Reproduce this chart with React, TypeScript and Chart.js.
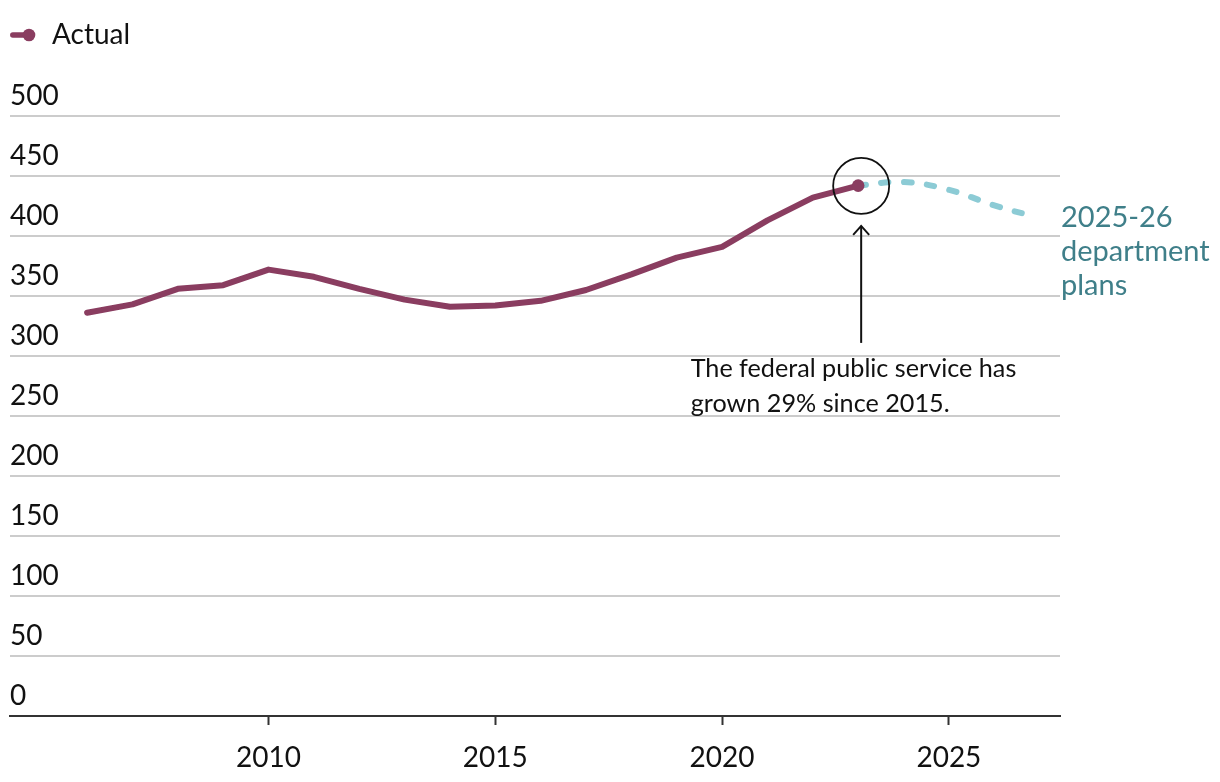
import React, { useEffect, useRef } from 'react';
import { Chart, registerables } from 'chart.js';

Chart.register(...registerables);

// ---- Data ----
const actualYears = [2006, 2007, 2008, 2009, 2010, 2011, 2012, 2013, 2014, 2015, 2016, 2017, 2018, 2019, 2020, 2021, 2022, 2023];
const actualValues = [336, 343, 356, 359, 372, 366, 356, 347, 341, 342, 346, 355, 368, 382, 391, 413, 432, 442];
const planYears = [2023, 2024, 2025, 2026, 2026.75];
const planValues = [442, 445, 438.5, 425.5, 417.5];
const xTickYears = [2010, 2015, 2020, 2025];
const legendLabel = 'Actual';
const calloutLines = ['The federal public service has', 'grown 29% since 2015.'];
const planLabelLines = ['2025-26', 'department', 'plans'];

// ---- Styles ----
const ACTUAL_COLOR = '#8a3d60';
const PLAN_COLOR = '#8ccbd5';
const PLAN_TEXT_COLOR = '#3f7f89';
const TEXT_COLOR = '#111111';
const FONT = 'Lato';

function makeMarker(): HTMLCanvasElement {
  const c = document.createElement('canvas');
  c.width = 28;
  c.height = 16;
  const g = c.getContext('2d')!;
  g.strokeStyle = ACTUAL_COLOR;
  g.lineWidth = 5.5;
  g.lineCap = 'round';
  g.beginPath();
  g.moveTo(2.8, 8);
  g.lineTo(19, 8);
  g.stroke();
  g.fillStyle = ACTUAL_COLOR;
  g.beginPath();
  g.arc(19, 8, 6.3, 0, Math.PI * 2);
  g.fill();
  return c;
}

const legendSpacer = {
  id: 'legendSpacer',
  beforeLayout(chart: any) {
    const legend = chart.legend;
    if (legend && !legend._spacerPatched) {
      const orig = legend.fit;
      legend.fit = function () {
        orig.call(this);
        this.height = 95;
      };
      legend._spacerPatched = true;
    }
  },
};

const annotations = {
  id: 'annotations',
  afterDatasetsDraw(chart: any) {
    const { ctx, chartArea } = chart;
    const x = chart.scales.x;
    const y = chart.scales.y;
    const last = actualValues.length - 1;
    const px = x.getPixelForValue(actualYears[last]);
    const py = y.getPixelForValue(actualValues[last]);
    const cx = px + 3;
    const cy = py + 0.3;
    ctx.save();
    ctx.strokeStyle = TEXT_COLOR;
    ctx.lineWidth = 1.8;
    ctx.beginPath();
    ctx.arc(cx, cy, 28, 0, Math.PI * 2);
    ctx.stroke();

    const tipY = cy + 40;
    const tailY = cy + 157;
    ctx.lineWidth = 2;
    ctx.beginPath();
    ctx.moveTo(cx, tailY);
    ctx.lineTo(cx, tipY);
    ctx.stroke();
    ctx.beginPath();
    ctx.moveTo(cx - 8, tipY + 9);
    ctx.lineTo(cx, tipY);
    ctx.lineTo(cx + 8, tipY + 9);
    ctx.stroke();

    ctx.fillStyle = TEXT_COLOR;
    ctx.font = `25.2px ${FONT}`;
    ctx.textAlign = 'left';
    ctx.textBaseline = 'alphabetic';
    calloutLines.forEach((t, i) => ctx.fillText(t, cx - 170.5, cy + 191 + i * 35));

    ctx.fillStyle = PLAN_TEXT_COLOR;
    ctx.font = `29px ${FONT}`;
    planLabelLines.forEach((t, i) => ctx.fillText(t, chartArea.right + 1, cy + 41.5 + i * 34));
    ctx.restore();
  },
};

export default function App() {
  const canvasRef = useRef<HTMLCanvasElement | null>(null);

  useEffect(() => {
    let chart: Chart | null = null;
    let cancelled = false;
    const create = () => {
      if (cancelled || !canvasRef.current) return;
      const marker = makeMarker();
      chart = new Chart(canvasRef.current, {
        type: 'line',
        data: {
          datasets: [
            {
              label: legendLabel,
              data: actualYears.map((yr, i) => ({ x: yr, y: actualValues[i] })),
              borderColor: ACTUAL_COLOR,
              backgroundColor: ACTUAL_COLOR,
              borderWidth: 6,
              tension: 0,
              borderCapStyle: 'round',
              borderJoinStyle: 'round',
              pointRadius: (c: any) => (c.dataIndex === actualValues.length - 1 ? 6.3 : 0),
              pointBorderWidth: 0,
              pointHoverRadius: 0,
              pointBackgroundColor: ACTUAL_COLOR,
            } as any,
            {
              label: 'Plans',
              data: planYears.map((yr, i) => ({ x: yr, y: planValues[i] })),
              borderColor: PLAN_COLOR,
              backgroundColor: PLAN_COLOR,
              borderWidth: 6,
              borderDash: [7.5, 15.5],
              borderCapStyle: 'round',
              tension: 0.4,
              pointRadius: 0,
              pointHoverRadius: 0,
            } as any,
          ],
        },
        options: {
          responsive: false,
          animation: false,
          events: [],
          layout: { padding: { left: 10, right: 160, top: 21, bottom: 0 } },
          scales: {
            x: {
              type: 'linear',
              min: 2004.3,
              max: 2027.45,
              afterBuildTicks: (s: any) => {
                s.ticks = xTickYears.map((v) => ({ value: v }));
              },
              afterFit: (s: any) => {
                s.height = 66;
              },
              grid: {
                display: true,
                drawOnChartArea: false,
                drawTicks: true,
                tickLength: 9,
                tickWidth: 2,
                tickColor: '#333333',
              },
              border: { display: true, color: '#333333', width: 2 },
              ticks: {
                padding: 16,
                autoSkip: false,
                maxRotation: 0,
                font: { family: FONT, size: 28 },
                color: TEXT_COLOR,
                callback: (v: any) => String(v),
              },
            },
            y: {
              type: 'linear',
              min: 0,
              max: 500,
              afterFit: (s: any) => {
                s.width = 0;
              },
              grid: {
                drawTicks: false,
                lineWidth: 2,
                color: (c: any) => (c.tick && c.tick.value === 0 ? 'rgba(0,0,0,0)' : '#cccccc'),
              },
              border: { display: false },
              ticks: {
                stepSize: 50,
                mirror: true,
                padding: 0,
                labelOffset: -20,
                autoSkip: false,
                font: { family: FONT, size: 28 },
                color: TEXT_COLOR,
              },
            },
          },
          plugins: {
            tooltip: { enabled: false },
            legend: {
              display: true,
              position: 'top',
              align: 'start',
              onClick: () => {},
              labels: {
                usePointStyle: true,
                pointStyleWidth: 28,
                padding: 0,
                font: { family: FONT, size: 28 },
                color: TEXT_COLOR,
                generateLabels: () => [
                  {
                    text: legendLabel,
                    pointStyle: marker,
                    fillStyle: ACTUAL_COLOR,
                    strokeStyle: ACTUAL_COLOR,
                    lineWidth: 0,
                    hidden: false,
                    datasetIndex: 0,
                    fontColor: TEXT_COLOR,
                  } as any,
                ],
              },
            },
          },
        } as any,
        plugins: [legendSpacer, annotations],
      });
    };
    const fontsApi = (document as any).fonts;
    if (fontsApi && fontsApi.load) {
      Promise.all([fontsApi.load(`28px ${FONT}`), fontsApi.load(`25.2px ${FONT}`)])
        .catch(() => null)
        .then(create);
    } else {
      create();
    }
    return () => {
      cancelled = true;
      if (chart) chart.destroy();
    };
  }, []);

  return (
    <div style={{ position: 'absolute', left: 0, top: 0, width: 1220, height: 782, background: '#ffffff' }}>
      <canvas ref={canvasRef} width={1220} height={782} style={{ display: 'block' }} />
    </div>
  );
}
